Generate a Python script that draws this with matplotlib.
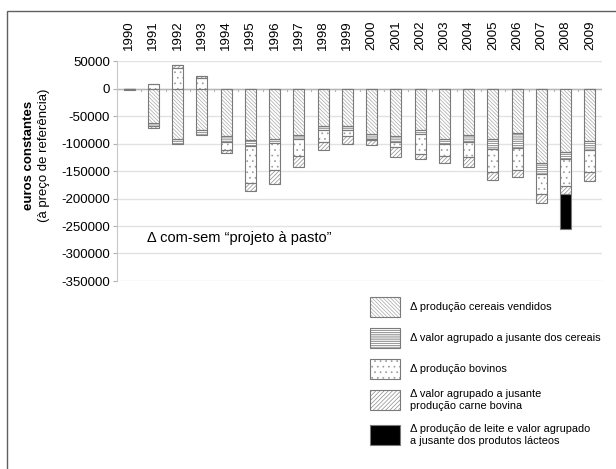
import numpy as np
import matplotlib
matplotlib.use("Agg")
import matplotlib.pyplot as plt
from matplotlib.patches import Rectangle

plt.rcParams['font.family'] = ['Liberation Sans', 'DejaVu Sans']
plt.rcParams['axes.unicode_minus'] = False
plt.rcParams['hatch.linewidth'] = 0.5

# data (euros constantes)
years = [str(y) for y in range(1990, 2010)]
cereais = [-3500, -62000, -92000, -76000, -86000, -94500, -92000, -84000, -68000, -68000,
           -83000, -87000, -76000, -92000, -84000, -92500, -80500, -135000, -116000, -95700]
valor_cereais = [0, -6000, -9000, -9000, -12000, -10000, -6500, -7000, -7000, -7000,
                 -9000, -11000, -7000, -9000, -13000, -18000, -27000, -21000, -13000, -17000]
bovinos = [0, 8000, 38000, 19000, -13000, -68000, -50000, -32000, -22000, -12000,
           -2000, -9000, -36000, -21000, -28000, -41500, -41000, -36500, -47500, -39600]
carne = [0, -4000, 4000, 4000, -6000, -13000, -25000, -19500, -14500, -14000,
         -8000, -18000, -10000, -13000, -18000, -15000, -13000, -16500, -15000, -15000]
leite = [0] * 18 + [-63500, 0]

labels = ["\u0394 produção cereais vendidos",
          "\u0394 valor agrupado a jusante dos cereais",
          "\u0394 produção bovinos",
          "\u0394 valor agrupado a jusante\nprodução carne bovina",
          "\u0394 produção de leite e valor agrupado\na jusante dos produtos lácteos"]
series = [cereais, valor_cereais, bovinos, carne, leite]
# hatch, hatch colour, face colour
styles = [("\\" * 9, "#a8a8a8", "white"),
          ("-" * 9, "#707070", "white"),
          ("...", "#9a9a9a", "white"),
          ("/" * 8, "#8c8c8c", "white"),
          ("", "black", "black")]

W, H = 616, 469
fig = plt.figure(figsize=(W / 100, H / 100), dpi=100)
fig.patch.set_facecolor("white")

def px(x, y):
    return x / W, 1 - y / H

ax = fig.add_axes([117 / W, 1 - 281 / H, (602 - 117) / W, (281 - 61) / H])
x = np.arange(len(years))
width = 0.46

pos = np.zeros(len(years))
neg = np.zeros(len(years))
for vals, (hatch, hc, fc) in zip(series, styles):
    v = np.array(vals, dtype=float)
    bottom = np.where(v >= 0, pos, neg)
    ax.bar(x, v, width, bottom=bottom, color=fc, edgecolor=hc, hatch=hatch,
           linewidth=0, zorder=3)
    ax.bar(x, v, width, bottom=bottom, fill=False, edgecolor="#7a7a7a",
           linewidth=0.8, zorder=4)
    pos = pos + np.where(v > 0, v, 0)
    neg = neg + np.where(v < 0, v, 0)

ax.set_xlim(-0.5, len(years) - 0.5)
ax.set_ylim(-350000, 50000)
ax.set_yticks(np.arange(-350000, 50001, 50000))
ax.set_yticklabels([str(int(t)) for t in np.arange(-350000, 50001, 50000)], fontsize=9.5)
ax.yaxis.grid(True, color="#e2e2e2", linewidth=1.0, zorder=0)
ax.set_axisbelow(True)
ax.tick_params(axis="y", length=3, color="#b0b0b0", pad=2)

ax.xaxis.tick_top()
ax.set_xticks(x)
ax.set_xticklabels(years, rotation=90, fontsize=9.5)
ax.tick_params(axis="x", length=0, pad=8)

for s in ["top", "right", "bottom"]:
    ax.spines[s].set_visible(False)
ax.spines["left"].set_color("#c8c8c8")

# category axis at zero with its tick marks between categories
ax.axhline(0, color="#b5b5b5", linewidth=1.0, zorder=2)
for b in np.arange(-0.5, len(years), 1.0):
    ax.plot([b, b], [0, -4000], color="#b5b5b5", linewidth=0.8, zorder=2)

ax.text(0.062, 0.195, "\u0394 com-sem \u201cprojeto à pasto\u201d", transform=ax.transAxes,
        fontsize=10.5, va="center", ha="left")

# y axis title
fig.text(*px(29, 155), "euros constantes", rotation=90, fontsize=9.5,
         fontweight="bold", ha="center", va="center")
fig.text(*px(44, 155), "(à preço de referência)", rotation=90, fontsize=9.5,
         ha="center", va="center")

# legend
centers = [307, 338, 369, 400, 435]
for lab, (hatch, hc, fc), cy in zip(labels, styles, centers):
    x0, y0 = px(370, cy + 10)
    fig.add_artist(Rectangle((x0, y0), 30 / W, 20 / H, transform=fig.transFigure,
                             facecolor=fc, edgecolor=hc, hatch=hatch, linewidth=0))
    fig.add_artist(Rectangle((x0, y0), 30 / W, 20 / H, transform=fig.transFigure,
                             fill=False, edgecolor="#7a7a7a", linewidth=0.8))
    fig.text(*px(410, cy), lab, fontsize=7.9, va="center", ha="left", linespacing=1.2)

# outer frame
fig.add_artist(Rectangle(px(7, 470), 1.0, (470 - 11) / H, transform=fig.transFigure,
                         fill=False, edgecolor="#606060", linewidth=1.0))

fig.savefig("out.png", dpi=100)
